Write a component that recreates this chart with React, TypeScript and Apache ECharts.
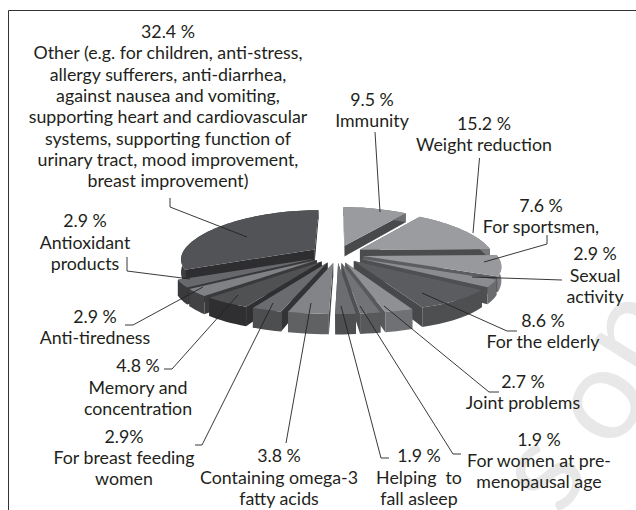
import React, { useEffect, useRef } from "react";
import * as echarts from "echarts";

const categories = ["Immunity","Weight reduction","For sportsmen,","Sexual activity","For the elderly","Joint problems","For women at pre-menopausal age","Helping to fall asleep","Containing omega-3 fatty acids","For breast feeding women","Memory and concentration","Anti-tiredness","Antioxidant products","Other"];
const values = [9.5, 15.2, 7.6, 2.9, 8.6, 2.7, 1.9, 1.9, 3.8, 2.9, 4.8, 2.9, 2.9, 32.4];
const topColors = ["#9a9b9e","#9b9c9f","#98999c","#8b8c8f","#5b5c5f","#8f9093","#727376","#6c6d70","#838487","#6a6b6e","#505153","#808184","#67686b","#525356"];
const sideColors = ["#48494b","#4b4c4e","#5c5d5f","#4e4f51","#47484a","#58595b","#4f5052","#47484a","#4a4b4d","#343436","#2f2f31","#3a3a3c","#38383a","#2e2e30"];
const outerColors = ["#6e6f71","#77787a","#808184","#6b6c6e","#4e4f51","#707174","#58595b","#4e4f51","#606163","#4d4e50","#2f2f31","#424244","#3a3a3c","#3e3e40"];

const labelLines: string[][] = [
  ["9.5 %","Immunity"],
  ["15.2 %","Weight reduction"],
  ["7.6 %","For sportsmen,"],
  ["2.9 %","Sexual","activity"],
  ["8.6 %","For the elderly"],
  ["2.7 %","Joint problems"],
  ["1.9 %","For women at pre-","menopausal age"],
  ["1.9 %","Helping  to","fall asleep"],
  ["3.8 %","Containing omega-3","fatty acids"],
  ["2.9%","For breast feeding","women"],
  ["4.8 %","Memory and","concentration"],
  ["2.9 %","Anti-tiredness"],
  ["2.9 %","Antioxidant","products"],
  ["32.4 %","Other (e.g. for children, anti-stress,","allergy sufferers, anti-diarrhea,","against nausea and vomiting,","supporting heart and cardiovascular","systems, supporting function of","urinary tract, mood improvement,","breast improvement)"],
];
// [centre x, first line y, line pitch] of each label block
const labelBoxes = [
  [372,99,20.5],[484,123,21],[541,205,21],[595,253,21.5],[543,320,21],[523,381,21],[539,439,21],[419,455,21.5],[279,455,21.5],[124,436,21],[138,365,21.5],[95,316,21],[85,220,21.5],[168,31,21.3],
];
const leaders: number[][][] = [
  [[375,132],[380,212]],
  [[479.5,158],[473,233]],
  [[547,235],[547,244],[484,262]],
  [[562,280],[472,277]],
  [[517,331],[507,331],[422,293]],
  [[499,392],[489,392],[384,306]],
  [[461,454],[453,454],[360,306]],
  [[389,458],[381,458],[341,306]],
  [[286,443],[311,303]],
  [[195,445],[202,445],[273,303]],
  [[164,369],[172,369],[238,295]],
  [[125,325],[133,325],[203,287]],
  [[127,257],[127,271],[190,279]],
  [[170,198],[170,207],[247,237]],
];
const watermark = [["o",592,396],["s",534,468],["n",622,326],["r",486,538]];

const CX = 337, CY = 254, RX = 133, RY = 44, KX = 0.2, KY = 0.1, EXPLODE = 0.2;
const total = values.reduce((a, b) => a + b, 0);
const starts: number[] = [];
values.reduce((acc, v, i) => { starts[i] = acc; return acc + v; }, 0);
const rad = (pct: number) => (pct / total) * Math.PI * 2;

function project(wx: number, wy: number) {
  return [CX + (RX * wx) / (1 + KX * wy), CY - (RY * wy) / (1 + KY * wy)];
}
function depthAt(wy: number) {
  return Math.max(9, 12 - 7 * wy);
}
function slicePoints(i: number) {
  const a0 = rad(starts[i]);
  const a1 = rad(starts[i] + values[i]);
  const m = (a0 + a1) / 2;
  const ox = EXPLODE * Math.sin(m), oy = EXPLODE * Math.cos(m);
  const world: number[][] = [[ox, oy]];
  const steps = Math.max(2, Math.ceil((a1 - a0) / 0.04));
  for (let s = 0; s <= steps; s++) {
    const a = a0 + ((a1 - a0) * s) / steps;
    world.push([ox + Math.sin(a), oy + Math.cos(a)]);
  }
  return world;
}
const drawOrder = values
  .map((_, i) => i)
  .sort((p, q) => Math.cos(rad(starts[q] + values[q] / 2)) - Math.cos(rad(starts[p] + values[p] / 2)));

function renderSlice(_p: any, api: any) {
  const i = api.value(0) as number;
  const world = slicePoints(i);
  const top = world.map(([x, y]) => project(x, y));
  const low = world.map(([x, y], k) => [top[k][0], top[k][1] + depthAt(y)]);
  const n = world.length - 1;
  const wall = (k0: number, k1: number) => [top[k0], top[k1], low[k1], low[k0]];
  const outer = [...top.slice(1), ...low.slice(1).reverse()];
  return {
    type: "group",
    children: [
      { type: "polygon", shape: { points: wall(0, 1) }, style: { fill: sideColors[i] } },
      { type: "polygon", shape: { points: wall(0, n) }, style: { fill: sideColors[i] } },
      { type: "polygon", shape: { points: outer }, style: { fill: outerColors[i] } },
      { type: "polygon", shape: { points: top }, style: { fill: topColors[i] } },
    ],
  };
}

const FONT = "Lato";

export default function App() {
  const ref = useRef<HTMLDivElement>(null);
  useEffect(() => {
    const chart = echarts.init(ref.current!, undefined, { renderer: "svg" });
    const marks: any[] = [];
    watermark.forEach(([t, x, y]) => {
      marks.push({ type: "text", x: x as number, y: y as number, rotation: (58 * Math.PI) / 180, silent: true, z: 0,
        style: { text: t as string, fill: "#e8e8e8", font: `130px ${FONT}`, align: "center", verticalAlign: "middle" } });
    });
    marks.push({ type: "polyline", z: 1, silent: true, shape: { points: [[8.5, 510], [8.5, 10.5], [636, 10.5]] }, style: { stroke: "#333333", lineWidth: 1, fill: "none" } });
    leaders.forEach((pts) => {
      marks.push({ type: "polyline", z: 20, silent: true, shape: { points: pts }, style: { stroke: "#222222", lineWidth: 0.9, fill: "none" } });
    });
    labelLines.forEach((lines, i) => {
      const [x, y, pitch] = labelBoxes[i];
      lines.forEach((t, k) => {
        marks.push({ type: "text", x, y: y + k * pitch, z: 21, silent: true,
          style: { text: t, fill: "#231f20", font: `17.8px ${FONT}`, align: "center", verticalAlign: "middle" } });
      });
    });
    chart.setOption({
      animation: false,
      backgroundColor: "#ffffff",
      series: [{
        type: "custom",
        coordinateSystem: "none",
        silent: true,
        z: 10,
        data: drawOrder.map((i) => ({ name: categories[i], value: [i, values[i]] })),
        renderItem: renderSlice,
      }],
      graphic: { elements: marks },
    });
    return () => chart.dispose();
  }, []);
  return <div ref={ref} style={{ position: "absolute", left: 0, top: 0, width: 636, height: 510 }} />;
}
